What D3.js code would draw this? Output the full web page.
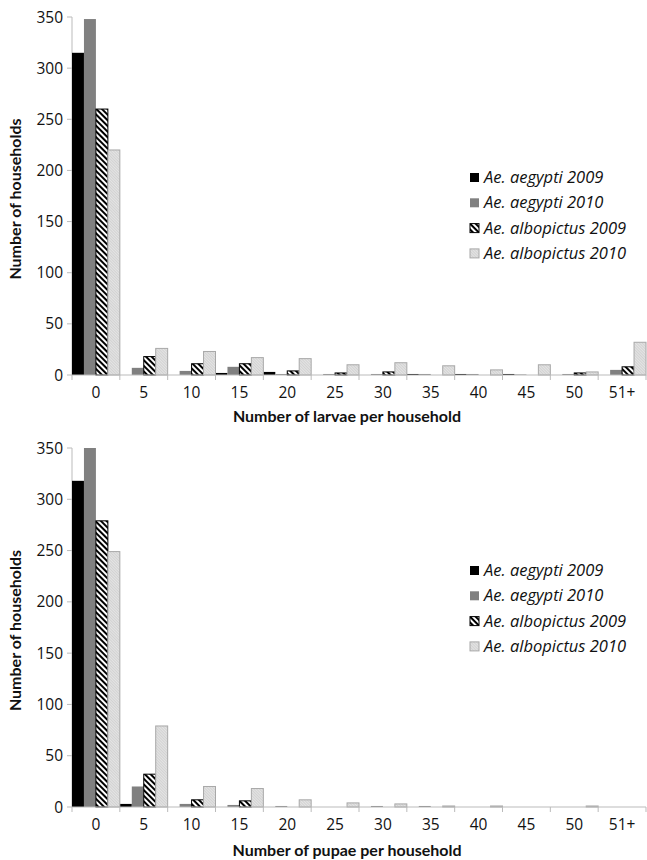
<!DOCTYPE html>
<html>
<head>
<meta charset="utf-8">
<script src="https://cdnjs.cloudflare.com/ajax/libs/d3/7.8.5/d3.min.js"></script>
<style>
  body { margin: 0; background: #fff; }
  text { font-family: "Open Sans", Lato, sans-serif; fill: #111; }
  .leg text { font-style: italic; }
  .title { font-family: Lato, sans-serif; font-weight: bold; }
</style>
</head>
<body>
<div id="chart"></div>
<script>
var categories = ["0", "5", "10", "15", "20", "25", "30", "35", "40", "45", "50", "51+"];
var seriesNames = ["Ae. aegypti 2009", "Ae. aegypti 2010", "Ae. albopictus 2009", "Ae. albopictus 2010"];
var yTicks = [0, 50, 100, 150, 200, 250, 300, 350];

// larvae per household
var larvaeAegypti2009    = [315, 0, 0, 2, 3, 0, 0, 1, 1, 1, 0, 0];
var larvaeAegypti2010    = [348, 7, 4, 8, 1, 1, 1, 1, 1, 0.5, 1, 5];
var larvaeAlbopictus2009 = [260, 18, 11, 11, 4, 2, 3, 0, 0, 0, 2, 8];
var larvaeAlbopictus2010 = [220, 26, 23, 17, 16, 10, 12, 9, 5, 10, 3, 32];

// pupae per household
var pupaeAegypti2009    = [318, 3, 0, 0, 0, 0, 0, 0, 0, 0, 0, 0];
var pupaeAegypti2010    = [350, 20, 3, 2, 1, 0, 1, 1, 0, 0, 0, 0];
var pupaeAlbopictus2009 = [279, 32, 7, 6, 0, 0, 0, 0, 0, 0, 0, 0];
var pupaeAlbopictus2010 = [249, 79, 20, 18, 7, 4, 3, 1, 1, 0, 1, 0];

var width = 647, height = 860;

var svg = d3.select('#chart')
    .append('svg')
    .attr('width', width)
    .attr('height', height);

var defs = svg.append('defs');

var hatch = defs.append('pattern')
    .attr('id', 'hatch')
    .attr('patternUnits', 'userSpaceOnUse')
    .attr('width', 4)
    .attr('height', 4)
    .attr('patternTransform', 'rotate(45)');
hatch.append('rect').attr('width', 4).attr('height', 4).attr('fill', '#fff');
hatch.append('rect').attr('width', 4).attr('height', 2).attr('fill', '#000');

var dots = defs.append('pattern')
    .attr('id', 'light')
    .attr('patternUnits', 'userSpaceOnUse')
    .attr('width', 2)
    .attr('height', 2)
    .attr('patternTransform', 'rotate(45)');
dots.append('rect').attr('width', 2).attr('height', 2).attr('fill', '#e4e4e4');
dots.append('rect').attr('width', 2).attr('height', 1).attr('fill', '#d2d2d2');

var fills = ['#000', '#808080', 'url(#hatch)', 'url(#light)'];
var strokes = ['none', 'none', '#000', '#a8a8a8'];

function panel(cfg) {
    var g = svg.append('g');

    var x = d3.scaleBand()
        .domain(categories)
        .range([72, 646])
        .padding(0);

    var xs = d3.scaleBand()
        .domain(d3.range(4))
        .range([0, x.bandwidth()]);

    var y = d3.scaleLinear()
        .domain([0, 350])
        .range([cfg.bottom, cfg.top]);

    // y axis
    g.append('line')
        .attr('x1', 72).attr('x2', 72)
        .attr('y1', y(350)).attr('y2', y(0))
        .attr('stroke', '#bbb');
    g.selectAll('.yt')
        .data(yTicks)
        .enter()
        .append('line')
        .attr('x1', 67).attr('x2', 72)
        .attr('y1', function (d) { return y(d); })
        .attr('y2', function (d) { return y(d); })
        .attr('stroke', '#bbb');
    g.selectAll('.ylab')
        .data(yTicks)
        .enter()
        .append('text')
        .attr('x', 63)
        .attr('y', function (d) { return y(d) + 5.5; })
        .attr('text-anchor', 'end')
        .style('font-size', '15.5px')
        .text(function (d) { return d; });

    // bars
    var series = cfg.series;
    series.forEach(function (vals, i) {
        g.append('g')
            .selectAll('rect')
            .data(vals)
            .enter()
            .append('rect')
            .attr('x', function (d, j) { return x(categories[j]) + xs(i); })
            .attr('y', function (d) { return y(d); })
            .attr('width', xs.bandwidth())
            .attr('height', function (d) { return y(0) - y(d); })
            .attr('fill', fills[i])
            .attr('stroke', function (d) { return d > 0 ? strokes[i] : 'none'; })
            .attr('stroke-width', 1);
    });

    // x axis
    g.append('line')
        .attr('x1', 72).attr('x2', 646)
        .attr('y1', y(0)).attr('y2', y(0))
        .attr('stroke', '#bbb');
    var edges = categories.map(function (c) { return x(c); }).concat([646]);
    g.selectAll('.xt')
        .data(edges)
        .enter()
        .append('line')
        .attr('x1', function (d) { return d; })
        .attr('x2', function (d) { return d; })
        .attr('y1', y(0)).attr('y2', y(0) + 5)
        .attr('stroke', '#bbb');
    g.selectAll('.xlab')
        .data(categories)
        .enter()
        .append('text')
        .attr('x', function (d) { return x(d) + x.bandwidth() / 2; })
        .attr('y', y(0) + 23)
        .attr('text-anchor', 'middle')
        .style('font-size', '15.5px')
        .text(function (d) { return d; });

    // axis titles
    g.append('text')
        .attr('class', 'title')
        .attr('x', 347)
        .attr('y', y(0) + cfg.titleGap)
        .attr('text-anchor', 'middle')
        .style('font-size', '16px')
        .text(cfg.xTitle);
    g.append('text')
        .attr('class', 'title')
        .attr('transform', 'translate(21,' + ((y(0) + y(350)) / 2 + 3) + ') rotate(-90)')
        .attr('text-anchor', 'middle')
        .style('font-size', '16px')
        .text('Number of households');

    // legend
    var leg = g.append('g')
        .attr('class', 'leg')
        .selectAll('g')
        .data(seriesNames)
        .enter()
        .append('g')
        .attr('transform', function (d, i) { return 'translate(470,' + (cfg.legendTop + i * 25.3) + ')'; });
    leg.append('rect')
        .attr('x', 0).attr('y', -10)
        .attr('width', 9).attr('height', 9)
        .attr('fill', function (d, i) { return fills[i]; })
        .attr('stroke', function (d, i) { return strokes[i]; });
    leg.append('text')
        .attr('x', 14)
        .attr('y', 0)
        .style('font-size', '16.5px')
        .text(function (d) { return d; });
}

panel({
    top: 17, bottom: 375, titleGap: 47,
    xTitle: 'Number of larvae per household',
    legendTop: 183,
    series: [larvaeAegypti2009, larvaeAegypti2010, larvaeAlbopictus2009, larvaeAlbopictus2010]
});

panel({
    top: 448, bottom: 807, titleGap: 49,
    xTitle: 'Number of pupae per household',
    legendTop: 576,
    series: [pupaeAegypti2009, pupaeAegypti2010, pupaeAlbopictus2009, pupaeAlbopictus2010]
});
</script>
</body>
</html>
